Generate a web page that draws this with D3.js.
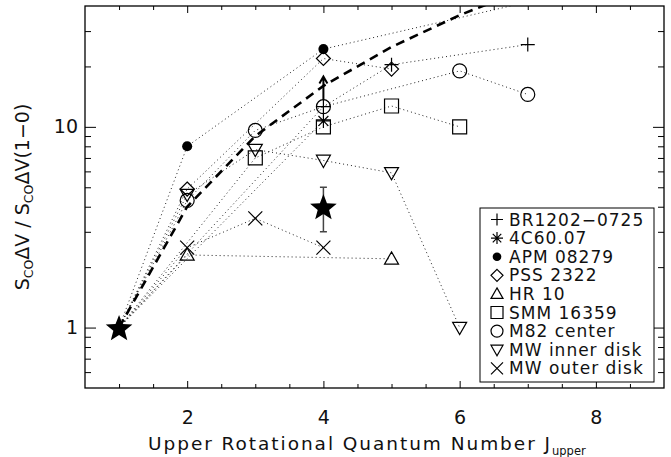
<!DOCTYPE html>
<html><head><meta charset="utf-8">
<script src="https://cdn.jsdelivr.net/npm/d3@7"></script>
<style>body{margin:0;background:#fff} svg{display:block} text{font-family:"DejaVu Sans",sans-serif;fill:#111}</style>
</head><body><svg id="c" width="671" height="457"></svg>
<script>
// ---- data ----
const xMajorTicks = [2, 4, 6, 8];
const xMinorTicks = [1, 1.5, 2.5, 3, 3.5, 4.5, 5, 5.5, 6.5, 7, 7.5, 8.5];
const yMajorTicks = [1, 10];
const yMinorTicks = [0.6, 0.7, 0.8, 0.9, 2, 3, 4, 5, 6, 7, 8, 9, 20, 30];

const seriesNames = ["BR1202\u22120725", "4C60.07", "APM 08279", "PSS 2322", "HR 10", "SMM 16359", "M82 center", "MW inner disk", "MW outer disk"];
const seriesSymbols = ["plus", "asterisk", "dot", "diamond", "triangle", "square", "circle", "triangleDown", "cross"];

const brJ = [1, 4, 5, 7],            brV = [1, 12.6, 20.4, 25.7];
const c4J = [1, 4],                  c4V = [1, 10.7];
const apmJ = [1, 2, 4, 9],           apmV = [1, 8.0, 24.4, 60];
const pssJ = [1, 2, 4, 5],           pssV = [1, 4.9, 21.9, 19.4];
const hrJ = [1, 2, 5],               hrV = [1, 2.3, 2.2];
const smmJ = [1, 3, 4, 5, 6],        smmV = [1, 7.0, 10.0, 12.7, 10.0];
const m82J = [1, 2, 3, 4, 6, 7],     m82V = [1, 4.3, 9.6, 12.6, 19.0, 14.5];
const mwiJ = [1, 2, 3, 4, 5, 6],     mwiV = [1, 4.6, 7.7, 6.8, 5.9, 1.0];
const mwoJ = [1, 2, 3, 4],           mwoV = [1, 2.5, 3.5, 2.5];

const lteJ = [1, 2, 3, 4, 5, 6, 7],  lteV = [1, 4, 9, 16, 25, 36, 49];

const starJ = [1, 4], starV = [1, 4.0];
const starErrLo = [1, 3.0], starErrHi = [1, 5.0];

const limitJ = [4], limitFrom = [12.6], limitTo = [17.8];

const seriesJ = [brJ, c4J, apmJ, pssJ, hrJ, smmJ, m82J, mwiJ, mwoJ];
const seriesV = [brV, c4V, apmV, pssV, hrV, smmV, m82V, mwiV, mwoV];

// ---- layout ----
const L = 85, R = 664, T = 6, B = 388;
const svg = d3.select("#c");
const x = d3.scaleLinear().domain([0.5, 9]).range([L, R]);
const y = d3.scaleLog().domain([0.5, 40]).range([B, T]);

svg.append("defs").append("clipPath").attr("id", "clip")
  .append("rect").attr("x", L).attr("y", T).attr("width", R - L).attr("height", B - T);

function symPath(type, s) {
  const d = s * 0.7071;
  switch (type) {
    case "plus": return `M${-s},0H${s}M0,${-s}V${s}`;
    case "asterisk": return `M${-s},0H${s}M0,${-s}V${s}M${-d},${-d}L${d},${d}M${-d},${d}L${d},${-d}`;
    case "diamond": return `M0,${-s}L${s},0L0,${s}L${-s},0Z`;
    case "triangle": return `M0,${-s}L${s},${s * 0.75}L${-s},${s * 0.75}Z`;
    case "triangleDown": return `M${-s},${-s * 0.75}L${s},${-s * 0.75}L0,${s}Z`;
    case "square": return `M${-s},${-s}H${s}V${s}H${-s}Z`;
    case "cross": return `M${-s},${-s}L${s},${s}M${-s},${s}L${s},${-s}`;
  }
  return "";
}
function drawSym(g, type, cx, cy, s) {
  if (type === "circle") {
    g.append("circle").attr("cx", cx).attr("cy", cy).attr("r", s).attr("fill", "none").attr("stroke", "#000").attr("stroke-width", 1.2);
  } else if (type === "dot") {
    g.append("circle").attr("cx", cx).attr("cy", cy).attr("r", s * 0.72).attr("fill", "#000");
  } else {
    g.append("path").attr("transform", `translate(${cx},${cy})`).attr("d", symPath(type, s))
      .attr("fill", "none").attr("stroke", "#000").attr("stroke-width", 1.2);
  }
}
function starPath(Ro, Ri) {
  const p = [];
  for (let i = 0; i < 10; i++) {
    const a = -Math.PI / 2 + i * Math.PI / 5, r = i % 2 ? Ri : Ro;
    p.push([r * Math.cos(a), r * Math.sin(a)]);
  }
  return "M" + p.map(q => q[0].toFixed(2) + "," + q[1].toFixed(2)).join("L") + "Z";
}

// ---- axes ----
function axisG(axis) {
  const g = svg.append("g").call(axis);
  g.select(".domain").remove();
  g.selectAll("line").attr("stroke", "#000").attr("stroke-width", 1);
  return g;
}
const bx = axisG(d3.axisBottom(x).tickValues(xMajorTicks).tickSize(-7).tickPadding(23).tickFormat(d3.format("d"))).attr("transform", `translate(0,${B})`);
bx.selectAll("text").attr("font-size", 19).attr("fill", "#111");
axisG(d3.axisBottom(x).tickValues(xMinorTicks).tickSize(-4).tickFormat("")).attr("transform", `translate(0,${B})`);
axisG(d3.axisTop(x).tickValues(xMajorTicks).tickSize(-7).tickFormat("")).attr("transform", `translate(0,${T})`);
axisG(d3.axisTop(x).tickValues(xMinorTicks).tickSize(-4).tickFormat("")).attr("transform", `translate(0,${T})`);
const ly = axisG(d3.axisLeft(y).tickValues(yMajorTicks).tickSize(-11).tickPadding(7).tickFormat(d3.format("d"))).attr("transform", `translate(${L},0)`);
ly.selectAll("text").attr("font-size", 19).attr("fill", "#111");
axisG(d3.axisLeft(y).tickValues(yMinorTicks).tickSize(-6).tickFormat("")).attr("transform", `translate(${L},0)`);
axisG(d3.axisRight(y).tickValues(yMajorTicks).tickSize(-11).tickFormat("")).attr("transform", `translate(${R},0)`);
axisG(d3.axisRight(y).tickValues(yMinorTicks).tickSize(-6).tickFormat("")).attr("transform", `translate(${R},0)`);

svg.append("rect").attr("x", L).attr("y", T).attr("width", R - L).attr("height", B - T)
  .attr("fill", "none").attr("stroke", "#000").attr("stroke-width", 1.3);

// ---- lines ----
const plot = svg.append("g").attr("clip-path", "url(#clip)");
const line = d3.line().x(d => x(d[0])).y(d => y(d[1]));
seriesJ.forEach((js, i) => {
  const pts = js.map((j, k) => [j, seriesV[i][k]]);
  plot.append("path").attr("d", line(pts)).attr("fill", "none")
    .attr("stroke", "#222").attr("stroke-width", 1).attr("stroke-dasharray", "1,3");
});
plot.append("path").attr("d", line(lteJ.map((j, k) => [j, lteV[k]]))).attr("fill", "none")
  .attr("stroke", "#000").attr("stroke-width", 2.6).attr("stroke-dasharray", "9,6");

// ---- markers ----
seriesJ.forEach((js, i) => {
  js.forEach((j, k) => {
    if (j === 1) return;
    const v = seriesV[i][k];
    if (v > 40) return;
    drawSym(plot, seriesSymbols[i], x(j), y(v), 7);
  });
});

// lower-limit arrow
limitJ.forEach((j, k) => {
  const cx = x(j), y0 = y(limitFrom[k]) - 7, y1 = y(limitTo[k]);
  plot.append("path").attr("d", `M${cx},${y0}V${y1}M${cx - 4},${y1 + 7}L${cx},${y1}L${cx + 4},${y1 + 7}`)
    .attr("fill", "none").attr("stroke", "#000").attr("stroke-width", 2);
});

// star with error bar
starJ.forEach((j, k) => {
  const cx = x(j);
  if (starErrHi[k] !== starErrLo[k]) {
    const ya = y(starErrLo[k]), yb = y(starErrHi[k]);
    plot.append("path").attr("d", `M${cx},${ya}V${yb}M${cx - 3.5},${ya}H${cx + 3.5}M${cx - 3.5},${yb}H${cx + 3.5}`)
      .attr("stroke", "#444").attr("stroke-width", 1.5).attr("fill", "none");
  }
  plot.append("path").attr("transform", `translate(${cx},${y(starV[k]) + 1.3})`).attr("d", starPath(14, 6))
    .attr("fill", "#000");
});

// ---- legend ----
const lg = svg.append("g");
lg.append("rect").attr("x", 480).attr("y", 208).attr("width", 174).attr("height", 174)
  .attr("fill", "#fff").attr("stroke", "#000").attr("stroke-width", 1);
seriesNames.forEach((n, i) => {
  const cy = 219.5 + i * 18.6;
  drawSym(lg, seriesSymbols[i], 497, cy, 6);
  lg.append("text").attr("x", 509).attr("y", cy).attr("dy", "0.36em").attr("font-size", 17)
    .attr("letter-spacing", 1).text(n);
});

// ---- axis titles ----
const xt = svg.append("g");
xt.append("text").attr("x", 148).attr("y", 450).attr("font-size", 18.5)
  .attr("textLength", 402).attr("lengthAdjust", "spacing").text("Upper Rotational Quantum Number J");
xt.append("text").attr("x", 552).attr("y", 455).attr("font-size", 11.5).text("upper");

const yt = svg.append("text").attr("transform", "translate(29,197) rotate(-90)")
  .attr("text-anchor", "middle").attr("font-size", 19);
yt.append("tspan").text("S");
yt.append("tspan").attr("font-size", 12.5).attr("dy", 4).text("CO");
yt.append("tspan").attr("dy", -4).text("\u0394V / S");
yt.append("tspan").attr("font-size", 12.5).attr("dy", 4).text("CO");
yt.append("tspan").attr("dy", -4).text("\u0394V(1\u22120)");
</script></body></html>
